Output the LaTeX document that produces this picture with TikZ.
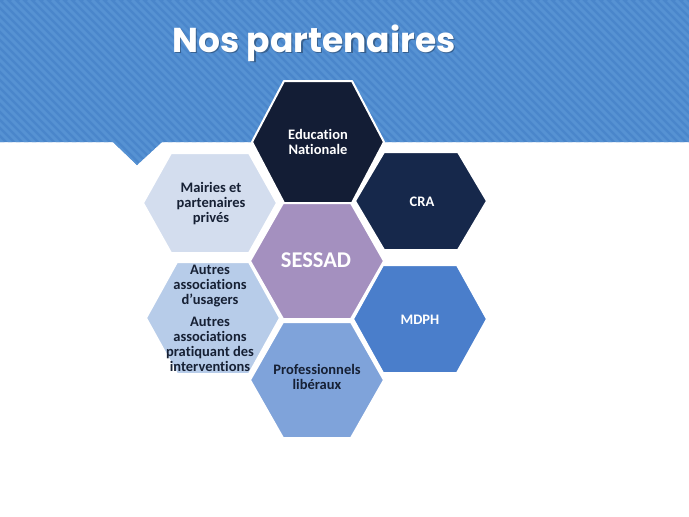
\documentclass[tikz,border=0pt]{standalone}
\usepackage{fontspec}
\setmainfont{Carlito}[Ligatures={NoCommon}]
\newfontfamily\titlefont{Poppins}
\definecolor{bannerbase}{RGB}{74,134,203}
\definecolor{bannerstripe}{RGB}{86,146,211}
\definecolor{cEd}{RGB}{19,29,53}
\definecolor{cCRA}{RGB}{22,40,75}
\definecolor{cSes}{RGB}{164,144,191}
\definecolor{cMai}{RGB}{211,221,238}
\definecolor{cAut}{RGB}{183,204,233}
\definecolor{cPro}{RGB}{127,163,218}
\definecolor{cMdph}{RGB}{74,126,203}
\definecolor{darktext}{RGB}{22,32,52}
\newcommand\hexcell[6]{%
  \fill[#6, draw=white, line width=2pt, line join=round]
    ({#1-#3},#2) -- ({#1-#5},{#2-#4}) -- ({#1+#5},{#2-#4}) --
    ({#1+#3},#2) -- ({#1+#5},{#2+#4}) -- ({#1-#5},{#2+#4}) -- cycle;}
\tikzset{
  lbl/.style={font=\bfseries\fontsize{14.5}{15}\selectfont, align=center, inner sep=0pt},
  stripe/.style={draw=bannerstripe, line width=3pt},
  titletext/.style={font=\titlefont\bfseries\fontsize{34.5}{40}\selectfont, anchor=base, inner sep=0pt}
}
\begin{document}
\begin{tikzpicture}[x=1pt,y=-1pt]
\useasboundingbox (0,0) rectangle (689,517);
\fill[white] (0,0) rectangle (689,517);
% banner
\begin{scope}
  \clip (0,0) -- (689,0) -- (689,142) -- (162,142) -- (137,165) -- (113,142) -- (0,142) -- cycle;
  \fill[bannerbase] (0,0) rectangle (689,170);
  \foreach \i in {-180,-172,...,700} \draw[stripe] (\i,0) -- ({\i+180},180);
\end{scope}
% title
\node[titletext, text=black, opacity=0.3] at (315.5,53.5) {Nos partenaires};
\node[titletext, text=white] (title) at (314,52) {Nos partenaires};
% hexagons
\hexcell{210}{203}{67}{50}{39}{cMai}
\hexcell{213}{318}{67}{56}{36}{cAut}
\hexcell{421}{201}{66}{49}{37}{cCRA}
\hexcell{420}{319}{67}{54}{37}{cMdph}
\hexcell{318}{142}{66}{61}{34}{cEd}
\hexcell{317}{261}{67}{58}{34}{cSes}
\hexcell{317}{380}{67}{58}{34}{cPro}
% labels
\node[lbl, text=white] (ed) at (318,142) {Education\\Nationale};
\node[lbl, text=white] (cra) at (422,202) {CRA};
\node[lbl, text=white] (mdph) at (420,320) {MDPH};
\node[lbl, text=darktext] (mai) at (211,204) {Mairies et\\partenaires\\privés};
\node[lbl, text=darktext] (aut) at (210,318) {Autres\\associations\\d{\char"27}usagers\\[7pt]Autres\\associations\\pratiquant des\\interventions};
\node[lbl, text=darktext] (pro) at (317,377) {Professionnels\\libéraux};
\node[font=\bfseries\fontsize{22.5}{26}\selectfont, text=white, inner sep=0pt] (ses) at (316,260) {SESSAD};
\end{tikzpicture}
\end{document}
